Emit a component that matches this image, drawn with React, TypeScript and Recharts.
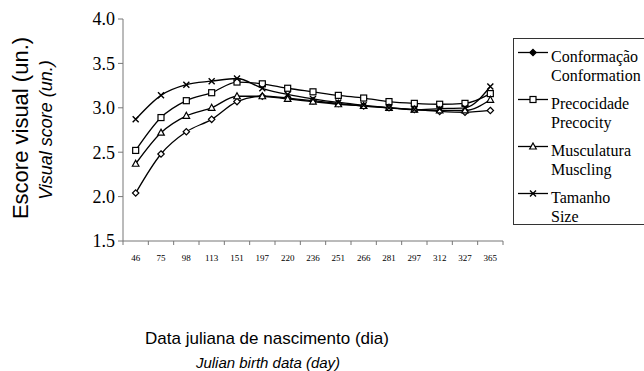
import React from "react";
import { LineChart, Line, XAxis, YAxis } from "recharts";

// dia juliano de nascimento
const days = [46, 75, 98, 113, 151, 197, 220, 236, 251, 266, 281, 297, 312, 327, 365];

// escores visuais
const conformacao = [2.04, 2.48, 2.73, 2.87, 3.07, 3.13, 3.11, 3.08, 3.05, 3.02, 3.0, 2.98, 2.96, 2.95, 2.97];
const precocidade = [2.52, 2.89, 3.08, 3.17, 3.29, 3.27, 3.22, 3.18, 3.14, 3.11, 3.07, 3.05, 3.04, 3.05, 3.16];
const musculatura = [2.37, 2.72, 2.91, 3.0, 3.13, 3.13, 3.1, 3.07, 3.04, 3.02, 3.0, 2.98, 2.97, 2.97, 3.09];
const tamanho = [2.87, 3.14, 3.26, 3.3, 3.33, 3.22, 3.15, 3.1, 3.06, 3.03, 3.0, 2.98, 2.99, 3.0, 3.24];

const yTicks = [1.5, 2.0, 2.5, 3.0, 3.5, 4.0];

const series = [
  { key: "conf", pt: "Conformação", en: "Conformation", values: conformacao, shape: "diamond" },
  { key: "prec", pt: "Precocidade", en: "Precocity", values: precocidade, shape: "square" },
  { key: "musc", pt: "Musculatura", en: "Muscling", values: musculatura, shape: "triangle" },
  { key: "tam", pt: "Tamanho", en: "Size", values: tamanho, shape: "cross" },
];

const data = days.map((d, i) => {
  const row: any = { idx: i, day: d };
  series.forEach(s => { row[s.key] = s.values[i]; });
  return row;
});

// labels at category centres, tick marks on the boundaries (Excel style)
const xTicks = [
  ...days.map((_, i) => i - 0.5),
  days.length - 0.5,
  ...days.map((_, i) => i),
].sort((a, b) => a - b);

const SERIF = "'Liberation Serif', 'Times New Roman', serif";
const SANS = "'Liberation Sans', Arial, sans-serif";
const AXIS = "#777";

function Marker(props: any) {
  const { shape, cx, cy, legend } = props;
  if (cx == null || cy == null) return null;
  if (shape === "diamond") {
    const s = 3.2;
    return <path d={`M${cx},${cy - s}L${cx + s},${cy}L${cx},${cy + s}L${cx - s},${cy}Z`} fill={legend ? "#000" : "#fff"} stroke="#000" strokeWidth={1.2} />;
  }
  if (shape === "square") {
    return <rect x={cx - 3} y={cy - 3} width={6} height={6} fill="#fff" stroke="#000" strokeWidth={1.2} />;
  }
  if (shape === "triangle") {
    return <path d={`M${cx},${cy - 3.5}L${cx + 3.3},${cy + 2.5}L${cx - 3.3},${cy + 2.5}Z`} fill="#fff" stroke="#000" strokeWidth={1.2} />;
  }
  return <path d={`M${cx - 3},${cy - 3}L${cx + 3},${cy + 3}M${cx + 3},${cy - 3}L${cx - 3},${cy + 3}`} stroke="#000" strokeWidth={1.4} fill="none" />;
}

function XTick(props: any) {
  const { x, y, payload } = props;
  const v = payload.value;
  if (Number.isInteger(v)) {
    return (
      <text x={x} y={y + 20} textAnchor="middle" fontFamily={SERIF} fontSize={9} fill="#000">
        {days[v]}
      </text>
    );
  }
  return <line x1={x} x2={x} y1={y} y2={y + 4} stroke={AXIS} strokeWidth={1} />;
}

export default function App() {
  return (
    <div style={{ position: "absolute", left: 0, top: 0, width: 644, height: 371, overflow: "hidden", background: "#fff" }}>
      <LineChart width={644} height={371} data={data} margin={{ top: 19, right: 141, left: 63, bottom: 100 }}>
        <XAxis
          dataKey="idx"
          type="number"
          domain={[-0.5, days.length - 0.5]}
          ticks={xTicks}
          interval={0}
          height={30}
          tickLine={false}
          tickSize={0}
          tickMargin={0}
          tick={<XTick />}
          axisLine={{ stroke: AXIS }}
        />
        <YAxis
          type="number"
          domain={[1.5, 4]}
          ticks={yTicks}
          interval={0}
          width={60}
          tickSize={5}
          tickMargin={3}
          tickFormatter={(v: number) => v.toFixed(1)}
          tick={{ fontFamily: SERIF, fontSize: 18, fill: "#000" }}
          axisLine={{ stroke: AXIS }}
          tickLine={{ stroke: AXIS }}
        />
        {series.map(s => (
          <Line
            key={s.key}
            dataKey={s.key}
            type="monotone"
            stroke="#000"
            strokeWidth={1.3}
            dot={<Marker shape={s.shape} />}
            activeDot={false}
            isAnimationActive={false}
          />
        ))}
      </LineChart>

      <svg width={644} height={371} style={{ position: "absolute", left: 0, top: 0, pointerEvents: "none" }}>
        <text x={20} y={128} transform="rotate(-90 20 128)" textAnchor="middle" dominantBaseline="central" fontFamily={SANS} fontSize={22} fill="#000">
          Escore visual (un.)
        </text>
        <text x={46} y={130} transform="rotate(-90 46 130)" textAnchor="middle" dominantBaseline="central" fontFamily={SANS} fontStyle="italic" fontSize={18} fill="#000">
          Visual score (un.)
        </text>
        <text x={267} y={338} textAnchor="middle" dominantBaseline="central" fontFamily={SANS} fontSize={17} fill="#000">
          Data juliana de nascimento (dia)
        </text>
        <text x={268} y={362} textAnchor="middle" dominantBaseline="central" fontFamily={SANS} fontStyle="italic" fontSize={15} fill="#000">
          Julian birth data (day)
        </text>
      </svg>

      <div
        style={{
          position: "absolute",
          left: 513,
          top: 38,
          width: 140,
          height: 187,
          border: "1px solid #333",
          boxSizing: "border-box",
          paddingTop: 9,
          fontFamily: SERIF,
          fontSize: 16,
          lineHeight: "18.5px",
          color: "#000",
          background: "#fff",
        }}
      >
        {series.map((s, i) => (
          <div key={s.key} style={{ position: "relative", height: 37, marginBottom: i < series.length - 1 ? 10 : 0, paddingLeft: 37, whiteSpace: "nowrap" }}>
            <svg width={32} height={10} style={{ position: "absolute", left: 4, top: 0 }}>
              <line x1={0} x2={30} y1={4.5} y2={4.5} stroke="#000" strokeWidth={1.3} />
              <Marker shape={s.shape} cx={15} cy={4.5} legend />
            </svg>
            <div>{s.pt}</div>
            <div>{s.en}</div>
          </div>
        ))}
      </div>
    </div>
  );
}
